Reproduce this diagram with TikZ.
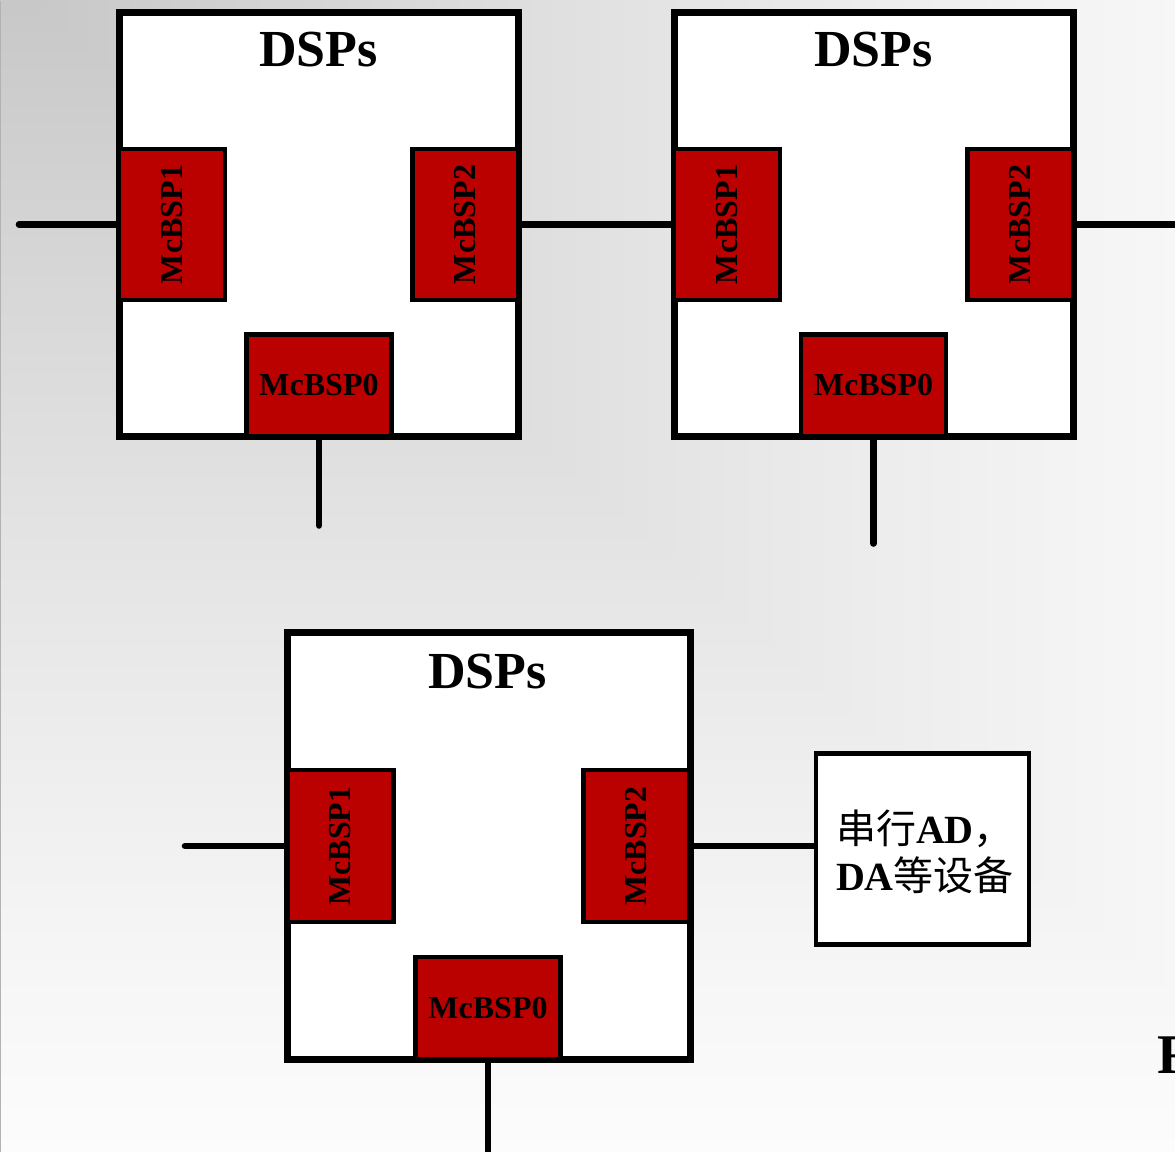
\documentclass[tikz,border=0pt]{standalone}
\usepackage{fontspec}
\setmainfont{Liberation Serif}
\newfontfamily\cjk{Noto Sans CJK SC}
\usepackage{xcolor}
\usepackage{tikz}

\definecolor{mcbspred}{RGB}{187,0,0}
% grey corner at the top left, fading out to white
% (tikz blows a shading up by sqrt 2, so undo that first)
\pgfdeclarefunctionalshading{bgshade}{\pgfpointorigin}{\pgfpoint{100bp}{100bp}}{}{
  50 sub 1.4142 mul 50 add 100 exch sub 1.127 mul
  exch 50 sub 1.4142 mul 50 add
  2 copy lt {exch} if pop
  106 div 1 exch sub dup 0 lt {pop 0} if
  1.3 exp 0.27 mul 1 exch sub dup dup}

\begin{document}
\begin{tikzpicture}[x=0.5pt,y=-0.5pt,
  dspbox/.style={draw,fill=white,line width=3.5pt,inner sep=0pt},
  port/.style={draw,fill=mcbspred,line width=2.2pt,inner sep=0pt,font=\fontsize{16}{18}\selectfont\bfseries},
  vport/.style={port,minimum width=53pt,minimum height=75.5pt},
  hport/.style={port,minimum width=72.5pt,minimum height=51pt},
  devbox/.style={draw,fill=white,line width=2.3pt,inner sep=0pt,minimum width=106.5pt,minimum height=95.5pt},
  title/.style={anchor=base,font=\fontsize{26}{30}\selectfont\bfseries},
  wire/.style={-,line width=3.3pt,line cap=round}]

 \shade[shading=bgshade] (0,0) rectangle (1175,1151);
 \draw[black!30,line width=0.5pt] (0.5,0) -- (0.5,1151);
 \useasboundingbox (0,0) rectangle (1175,1151);

 % first DSP
 \draw (318.5,224) node[dspbox,minimum width=199.5pt,minimum height=212pt] (dspA) {};
 \draw (318.5,66) node[title] (tA) {DSPs};
 \draw (172,224) node[vport] (spA1) {\rotatebox{90}{McBSP1}};
 \draw (465.5,224) node[vport] (spA2) {\rotatebox{90}{McBSP2}};
 \draw (319,385) node[hport] (spA0) {McBSP0};

 % second DSP
 \draw (873.5,224) node[dspbox,minimum width=199.5pt,minimum height=212pt] (dspB) {};
 \draw (873.5,66) node[title] (tB) {DSPs};
 \draw (727,224) node[vport] (spB1) {\rotatebox{90}{McBSP1}};
 \draw (1020.5,224) node[vport] (spB2) {\rotatebox{90}{McBSP2}};
 \draw (873.5,385) node[hport] (spB0) {McBSP0};

 % third DSP
 \draw (488.5,845.3) node[dspbox,minimum width=201.5pt,minimum height=213.5pt] (dspC) {};
 \draw (487.5,688) node[title] (tC) {DSPs};
 \draw (340.5,845.5) node[vport,minimum height=76pt] (spC1) {\rotatebox{90}{McBSP1}};
 \draw (636.5,845.5) node[vport,minimum height=76pt] (spC2) {\rotatebox{90}{McBSP2}};
 \draw (488,1007.7) node[hport] (spC0) {McBSP0};

 % serial converter
 \draw (922.5,848.5) node[devbox] (dev) {};
 \draw (829,851) node[anchor=west,align=left,font=\fontsize{20}{23.5}\selectfont\bfseries] (devtxt)
   {{\cjk\mdseries 串行}AD{\cjk\mdseries ，}\\DA{\cjk\mdseries 等设备}};

 \draw (1157,1073) node[anchor=base west,inner sep=0pt,font=\fontsize{28}{30}\selectfont\bfseries] (cut) {F};

 \coordinate (inA) at (19,224);
 \coordinate (outB) at (1180,224);
 \coordinate (downA) at (319,525);
 \coordinate (downB) at (873.5,543);
 \coordinate (inC) at (185,845.5);
 \coordinate (downC) at (488,1160);

 \path[wire] (inA) edge (spA1.west);
 \path[wire] (spA2.east) edge (spB1.west);
 \path[wire] (spB2.east) edge (outB);
 \path[wire] (spA0.south) edge (downA);
 \path[wire] (spB0.south) edge (downB);
 \path[wire] (inC) edge (spC1.west);
 \path[wire] (spC2.east) edge (spC2.east -| dev.west);
 \path[wire] (spC0.south) edge (downC);

\end{tikzpicture}
\end{document}
